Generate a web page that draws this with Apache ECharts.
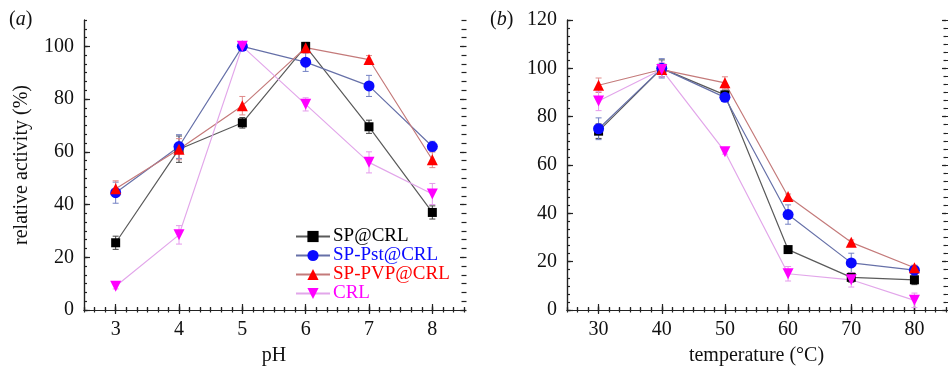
<!DOCTYPE html>
<html>
<head>
<meta charset="utf-8">
<script src="https://cdn.jsdelivr.net/npm/echarts@6/dist/echarts.min.js"></script>
<style>
  html, body { margin: 0; background: #fff; }
  #chart { width: 948px; height: 371px; }
</style>
</head>
<body>
<div id="chart"></div>
<script>
// series names
const names = ['SP@CRL', 'SP-Pst@CRL', 'SP-PVP@CRL', 'CRL']

// panel (a): pH
const phTicks = [3, 4, 5, 6, 7, 8]
const phSP = [25.5, 61, 71, 100, 69.5, 37]
const phPst = [44.5, 62, 100, 94, 85, 62]
const phPVP = [46, 61, 77.5, 99.5, 95, 57]
const phCRL = [9, 28.5, 100, 78, 56, 44]
const phSPErr = [2.5, 5, 2, 1.5, 2.5, 2.5]
const phPstErr = [4, 4.5, 1, 3.5, 4, 2]
const phPVPErr = [3, 4, 3.5, 1.5, 1.5, 3]
const phCRLErr = [1, 3.5, 1, 2.5, 4, 4]

// panel (b): temperature
const tempTicks = [30, 40, 50, 60, 70, 80]
const tSP = [74, 100, 89, 25, 13.5, 12.5]
const tPst = [75, 100, 88, 39.5, 19.5, 16.5]
const tPVP = [93, 99.5, 94, 47, 28, 17.5]
const tCRL = [86.5, 99.5, 65.5, 15, 12.5, 4]
const tSPErr = [3, 3.5, 2, 1, 2, 2]
const tPstErr = [4.5, 4, 1.5, 4, 4, 2]
const tPVPErr = [3, 1, 2.5, 1, 1, 1]
const tCRLErr = [4, 3, 1, 3, 3, 3]

const yTicksA = [0, 20, 40, 60, 80, 100]
const yTicksB = [0, 20, 40, 60, 80, 100, 120]

const FONT = 'Liberation Serif'
const AX = '#222'

// marker colour, line colour, error bar colour, symbol
const styles = [
    { mark: '#000000', line: '#5a5a5a', err: '#444', symbol: 'rect', size: 9, rot: 0 },
    { mark: '#0a0aff', line: '#6670a8', err: '#7482c4', symbol: 'circle', size: 11, rot: 0 },
    { mark: '#ff0000', line: '#c47a7a', err: '#e08a8a', symbol: 'triangle', size: 11, rot: 0 },
    { mark: '#ff00ff', line: '#e2a6ea', err: '#e59aec', symbol: 'triangle', size: 11, rot: 180 }
]

//* frame axes: main axis + minor tick axis + mirrored crossing ticks on the opposite side
function frameAxes(gi, min, max, majors, minorCount, side, opp, name, nameGap) {
    const hid = { show: false }
    const lineStyle = { color: AX, width: 1.2 }
    return [
        {
            type: 'value', gridIndex: gi, min, max, position: side,
            name, nameLocation: 'middle', nameGap,
            nameTextStyle: { fontFamily: FONT, fontSize: 20, color: '#111' },
            axisLine: { show: true, lineStyle },
            axisTick: { show: true, inside: true, length: 6, customValues: majors, lineStyle },
            axisLabel: { show: true, customValues: majors, margin: 10, fontFamily: FONT, fontSize: 20, color: '#111' },
            splitLine: hid
        },
        {
            type: 'value', gridIndex: gi, min: 0, max: minorCount, interval: 1, position: side,
            axisLine: hid, axisLabel: hid, splitLine: hid,
            axisTick: { show: true, inside: true, length: 3, lineStyle }
        },
        {
            type: 'value', gridIndex: gi, min, max, position: opp,
            axisLine: { show: true, lineStyle }, axisLabel: hid, splitLine: hid,
            axisTick: { show: true, inside: false, length: 4, customValues: majors, lineStyle }
        },
        {
            type: 'value', gridIndex: gi, min, max, position: opp,
            axisLine: hid, axisLabel: hid, splitLine: hid,
            axisTick: { show: true, inside: true, length: 4, customValues: majors, lineStyle }
        },
        {
            type: 'value', gridIndex: gi, min: 0, max: minorCount, interval: 1, position: opp,
            axisLine: hid, axisLabel: hid, splitLine: hid,
            axisTick: { show: true, inside: false, length: 2.5, lineStyle }
        },
        {
            type: 'value', gridIndex: gi, min: 0, max: minorCount, interval: 1, position: opp,
            axisLine: hid, axisLabel: hid, splitLine: hid,
            axisTick: { show: true, inside: true, length: 2.5, lineStyle }
        }
    ]
}

function lineSeries(i, xi, yi, xs, ys) {
    const s = styles[i]
    return {
        name: names[i], type: 'line', xAxisIndex: xi, yAxisIndex: yi,
        data: xs.map((x, k) => [x, ys[k]]),
        symbol: s.symbol, symbolSize: s.size, symbolRotate: s.rot,
        itemStyle: { color: s.mark },
        lineStyle: { color: s.line, width: 1.2 },
        z: 3, animation: false
    }
}

function errSeries(i, xi, yi, xs, ys, es) {
    const color = styles[i].err
    return {
        type: 'custom', xAxisIndex: xi, yAxisIndex: yi, silent: true, z: 2,
        data: xs.map((x, k) => [x, ys[k] - es[k], ys[k] + es[k]]),
        encode: { x: 0, y: [1, 2] },
        renderItem(params, api) {
            const lo = api.coord([api.value(0), api.value(1)])
            const hi = api.coord([api.value(0), api.value(2)])
            const w = 3
            const st = { stroke: color, lineWidth: 1 }
            return {
                type: 'group',
                children: [
                    { type: 'line', shape: { x1: lo[0], y1: lo[1], x2: hi[0], y2: hi[1] }, style: st },
                    { type: 'line', shape: { x1: lo[0] - w, y1: lo[1], x2: lo[0] + w, y2: lo[1] }, style: st },
                    { type: 'line', shape: { x1: hi[0] - w, y1: hi[1], x2: hi[0] + w, y2: hi[1] }, style: st }
                ]
            }
        }
    }
}

const xAxes = [
    ...frameAxes(0, 2.5, 8.5, phTicks, 36, 'bottom', 'top', 'pH', 36),
    ...frameAxes(1, 25, 85, tempTicks, 36, 'bottom', 'top', 'temperature (°C)', 36)
]
const yAxes = [
    ...frameAxes(0, 0, 110, yTicksA, 33, 'left', 'right', 'relative activity (%)', 52),
    ...frameAxes(1, 0, 120, yTicksB, 36, 'left', 'right', '', 40)
]

const phData = [phSP, phPst, phPVP, phCRL]
const phErr = [phSPErr, phPstErr, phPVPErr, phCRLErr]
const tData = [tSP, tPst, tPVP, tCRL]
const tErr = [tSPErr, tPstErr, tPVPErr, tCRLErr]

const series = []
for (let i = 0; i < 4; i++) {
    series.push(errSeries(i, 0, 0, phTicks, phData[i], phErr[i]))
    series.push(lineSeries(i, 0, 0, phTicks, phData[i]))
    series.push(errSeries(i, 6, 6, tempTicks, tData[i], tErr[i]))
    series.push(lineSeries(i, 6, 6, tempTicks, tData[i]))
}

const option = {
    animation: false,
    textStyle: { fontFamily: FONT },
    grid: [
        { left: 84, top: 20, width: 380, height: 293 },
        { left: 567, top: 20, width: 379, height: 293 }
    ],
    xAxis: xAxes,
    yAxis: yAxes,
    legend: {
        orient: 'vertical', left: 290, top: 222, itemGap: 0,
        itemWidth: 34, itemHeight: 14,
        textStyle: { fontFamily: FONT, fontSize: 19, lineHeight: 17, padding: [0, 0, 0, -2] },
        data: names.map((n, i) => ({ name: n, textStyle: { color: styles[i].mark } }))
    },
    graphic: [
        {
            type: 'text', left: 9, top: 10,
            style: {
                text: '{p|(}{i|a}{p|)}',
                rich: {
                    p: { fontFamily: FONT, fontSize: 20, fill: '#111' },
                    i: { fontFamily: FONT, fontSize: 20, fontStyle: 'italic', fill: '#111' }
                }
            }
        },
        {
            type: 'text', left: 490, top: 10,
            style: {
                text: '{p|(}{i|b}{p|)}',
                rich: {
                    p: { fontFamily: FONT, fontSize: 20, fill: '#111' },
                    i: { fontFamily: FONT, fontSize: 20, fontStyle: 'italic', fill: '#111' }
                }
            }
        }
    ],
    series
}

const chart = echarts.init(document.getElementById('chart'))
chart.setOption(option)
</script>
</body>
</html>
